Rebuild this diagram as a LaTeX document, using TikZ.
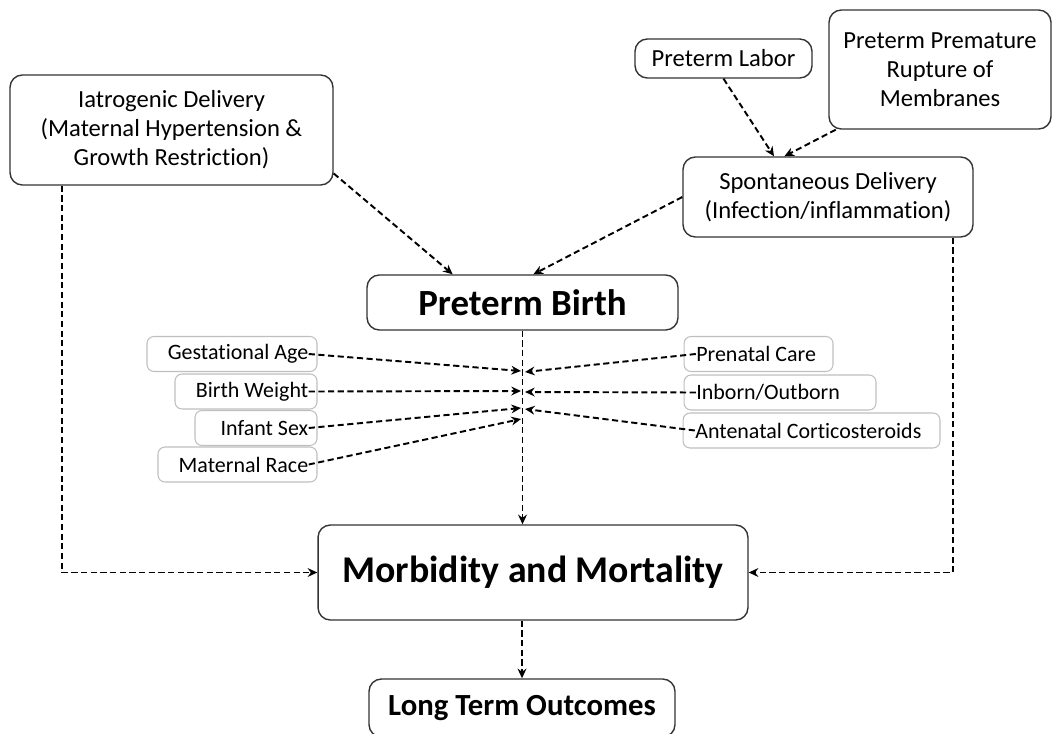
\documentclass[tikz,border=0pt]{standalone}
\usepackage{fontspec}
\setmainfont{Carlito}[Ligatures=CommonOff]
\usetikzlibrary{arrows.meta}

\begin{document}
\begin{tikzpicture}[
    x=0.02cm, y=-0.02cm,
    every node/.style={font=\fontsize{14}{16.5}\selectfont},
    mainbox/.style={draw=black!80, rounded corners=7pt, line width=0.8pt, align=center, inner sep=0pt},
    lbox/.style={draw=black!25, rounded corners=4pt, line width=0.6pt, align=flush right, inner xsep=5pt,
        minimum height=0.7cm, font=\fontsize{12.5}{14}\selectfont},
    rbox/.style={draw=black!25, rounded corners=4pt, line width=0.6pt, align=flush left, inner xsep=7pt,
        minimum height=0.7cm, font=\fontsize{12.5}{14}\selectfont},
    dedge/.style={line width=1.1pt, dash pattern=on 3.5pt off 2pt, -{Stealth[length=5.5pt,width=5pt]}},
]
\useasboundingbox (0,0) rectangle (1053,733);

% Causes of preterm birth
\node[mainbox, minimum width=6.46cm, minimum height=2.2cm] (iatro) at (171.5,130)
    {Iatrogenic Delivery\\(Maternal Hypertension \&\\Growth Restriction)};
\node[mainbox, minimum width=3.54cm, minimum height=0.78cm] (labor) at (723.5,58.5) {Preterm Labor};
\node[mainbox, minimum width=4.44cm, minimum height=2.38cm] (pprom) at (940,69.5)
    {Preterm Premature\\Rupture of\\Membranes};
\node[mainbox, minimum width=5.8cm, minimum height=1.6cm] (spont) at (828,197)
    {Spontaneous Delivery\\(Infection/inflammation)};

% Main chain
\node[mainbox, minimum width=6.22cm, minimum height=1.1cm, font=\fontsize{21}{24}\bfseries] (ptb) at (522.5,302.5) {Preterm Birth};
\node[mainbox, minimum width=8.6cm, minimum height=1.9cm, font=\fontsize{21.5}{24}\bfseries] (morb) at (533,572.5) {Morbidity and Mortality};
\node[mainbox, minimum width=6.12cm, minimum height=1.16cm, font=\fontsize{17.5}{20}\bfseries] (lto) at (522,708) {Long Term Outcomes};

% Modifiers, left side
\node[lbox, text width=3.4cm-10pt] (ga) at (232,354) {Gestational Age};
\node[lbox, text width=2.84cm-10pt] (bw) at (246,391.5) {Birth Weight};
\node[lbox, text width=2.44cm-10pt] (isex) at (256,428) {Infant Sex};
\node[lbox, text width=3.18cm-10pt] (mrace) at (237.5,464.5) {Maternal Race};

% Modifiers, right side
\node[rbox, text width=2.98cm-14pt] (pnc) at (758.5,354) {Prenatal Care};
\node[rbox, text width=3.84cm-14pt] (inout) at (780,392.5) {Inborn/Outborn};
\node[rbox, text width=5.14cm-14pt] (acs) at (811.5,430.5) {Antenatal Corticosteroids};

% where the modifier arrows meet the main line
\coordinate (h1) at (521,371);
\coordinate (h2) at (521,391);
\coordinate (h3) at (521,408);
\coordinate (h4) at (521,419);
\coordinate (k1) at (525,372);
\coordinate (k2) at (525,392);
\coordinate (k3) at (525,409);

% Connectors
\draw[dedge] (labor.south) -- (spont.143);
\draw[dedge] (pprom.210) -- (spont.137);
\draw[dedge] (iatro.-15) -- (ptb.158);
\draw[dedge] (spont.west) -- (ptb.69);
\draw[dedge] (ptb.south) -- (ptb.south |- morb.north);
\draw[dedge] ([xshift=-2.19cm]iatro.south) |- (morb.west);
\draw[dedge] ([xshift=2.5cm]spont.south) |- (morb.east);
\draw[dedge] (morb.south -| lto.north) -- (lto.north);

\draw[dedge] ([xshift=-5pt]ga.east) -- (h1);
\draw[dedge] ([xshift=-5pt]bw.east) -- (h2);
\draw[dedge] ([xshift=-5pt]isex.east) -- (h3);
\draw[dedge] ([xshift=-5pt]mrace.east) -- (h4);
\draw[dedge] ([xshift=7pt]pnc.west) -- (k1);
\draw[dedge] ([xshift=7pt]inout.west) -- (k2);
\draw[dedge] ([xshift=7pt]acs.west) -- (k3);

\end{tikzpicture}
\end{document}
